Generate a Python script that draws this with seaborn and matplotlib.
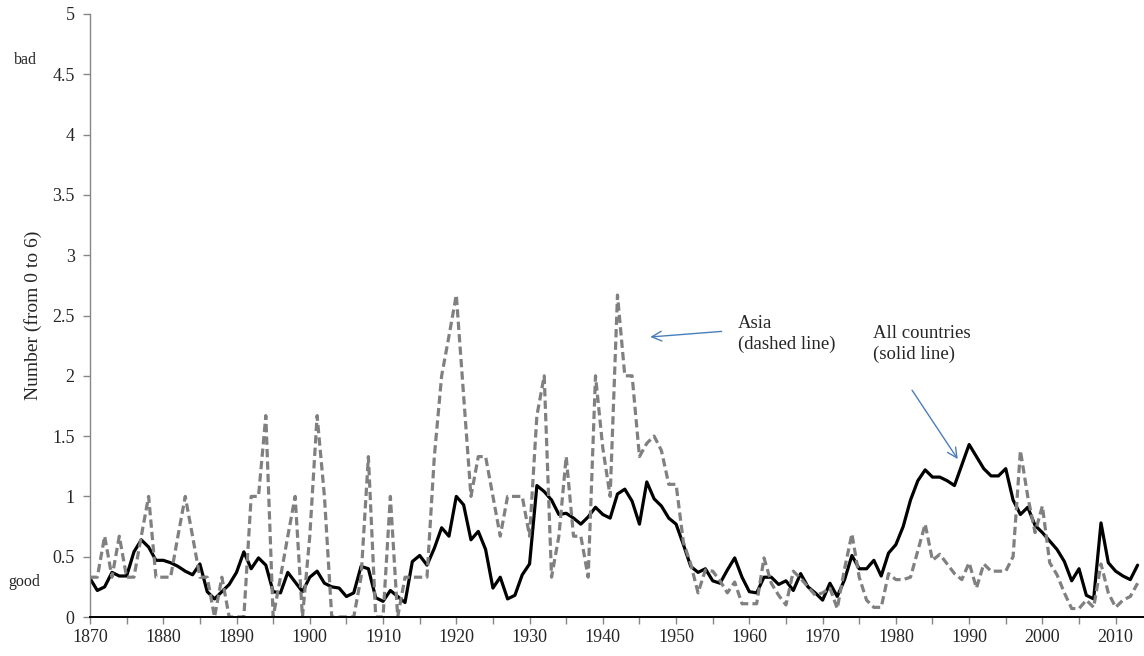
import numpy as np
import pandas as pd
import matplotlib
matplotlib.use("Agg")
import matplotlib.pyplot as plt
import seaborn as sns

years = list(range(1870, 2014))

all_countries = [
    0.32, 0.22, 0.25, 0.37, 0.34, 0.34, 0.54, 0.64, 0.58, 0.47,   # 1870s
    0.47, 0.45, 0.42, 0.38, 0.35, 0.44, 0.21, 0.15, 0.21, 0.27,   # 1880s
    0.37, 0.54, 0.40, 0.49, 0.43, 0.21, 0.20, 0.37, 0.29, 0.21,   # 1890s
    0.33, 0.38, 0.28, 0.25, 0.24, 0.17, 0.20, 0.42, 0.40, 0.16,   # 1900s
    0.13, 0.22, 0.17, 0.12, 0.46, 0.51, 0.43, 0.57, 0.74, 0.67,   # 1910s
    1.00, 0.93, 0.64, 0.71, 0.56, 0.24, 0.33, 0.15, 0.18, 0.35,   # 1920s
    0.44, 1.09, 1.04, 0.97, 0.85, 0.86, 0.82, 0.77, 0.83, 0.91,   # 1930s
    0.85, 0.82, 1.02, 1.06, 0.96, 0.77, 1.12, 0.98, 0.92, 0.82,   # 1940s
    0.77, 0.60, 0.42, 0.37, 0.40, 0.30, 0.28, 0.39, 0.49, 0.33,   # 1950s
    0.21, 0.20, 0.33, 0.33, 0.27, 0.30, 0.22, 0.36, 0.25, 0.20,   # 1960s
    0.14, 0.28, 0.17, 0.31, 0.51, 0.40, 0.40, 0.47, 0.34, 0.53,   # 1970s
    0.60, 0.75, 0.97, 1.13, 1.22, 1.16, 1.16, 1.13, 1.09, 1.26,   # 1980s
    1.43, 1.33, 1.23, 1.17, 1.17, 1.23, 0.97, 0.85, 0.91, 0.76,   # 1990s
    0.70, 0.63, 0.56, 0.46, 0.30, 0.40, 0.18, 0.15, 0.78, 0.45,   # 2000s
    0.38, 0.34, 0.31, 0.43,                                       # 2010s
]

asia = [
    0.33, 0.33, 0.67, 0.33, 0.67, 0.33, 0.33, 0.67, 1.00, 0.33,   # 1870s
    0.33, 0.33, 0.67, 1.00, 0.67, 0.33, 0.33, 0.00, 0.33, 0.00,   # 1880s
    0.00, 0.00, 1.00, 1.00, 1.67, 0.00, 0.33, 0.67, 1.00, 0.00,   # 1890s
    0.67, 1.67, 1.00, 0.00, 0.00, 0.00, 0.00, 0.33, 1.33, 0.00,   # 1900s
    0.00, 1.00, 0.00, 0.33, 0.33, 0.33, 0.33, 1.33, 2.00, 2.33,   # 1910s
    2.67, 1.83, 1.00, 1.33, 1.33, 1.00, 0.67, 1.00, 1.00, 1.00,   # 1920s
    0.67, 1.67, 2.00, 0.33, 0.67, 1.33, 0.67, 0.67, 0.33, 2.00,   # 1930s
    1.40, 1.00, 2.67, 2.00, 2.00, 1.33, 1.44, 1.50, 1.38, 1.10,   # 1940s
    1.10, 0.62, 0.44, 0.20, 0.39, 0.38, 0.30, 0.20, 0.29, 0.11,   # 1950s
    0.11, 0.11, 0.49, 0.28, 0.18, 0.10, 0.38, 0.32, 0.25, 0.18,   # 1960s
    0.20, 0.24, 0.07, 0.40, 0.69, 0.33, 0.14, 0.08, 0.08, 0.36,   # 1970s
    0.31, 0.31, 0.33, 0.55, 0.77, 0.47, 0.52, 0.44, 0.36, 0.31,   # 1980s
    0.45, 0.24, 0.44, 0.38, 0.38, 0.38, 0.50, 1.38, 1.00, 0.70,   # 1990s
    0.92, 0.45, 0.35, 0.20, 0.07, 0.07, 0.14, 0.08, 0.44, 0.20,   # 2000s
    0.08, 0.14, 0.17, 0.28,                                       # 2010s
]

series_names = ["All countries", "Asia"]
x_major = list(range(1870, 2011, 10))
x_minor = list(range(1875, 2014, 5))
y_ticks = [0, 0.5, 1, 1.5, 2, 2.5, 3, 3.5, 4, 4.5, 5]
y_ticklabels = ["0", "0.5", "1", "1.5", "2", "2.5", "3", "3.5", "4", "4.5", "5"]

df = pd.DataFrame({
    "Year": years * 2,
    "Value": all_countries + asia,
    "Series": [series_names[0]] * len(years) + [series_names[1]] * len(years),
})

sns.set_style("white")
plt.rcParams["font.family"] = ["Liberation Serif", "DejaVu Serif"]

fig = plt.figure(figsize=(11.44, 6.56), dpi=100)
ax = fig.add_axes([90 / 1144, 39 / 656, 1054 / 1144, 603 / 656])

sns.lineplot(
    data=df, x="Year", y="Value", hue="Series", style="Series",
    hue_order=series_names, style_order=series_names,
    palette={"All countries": "#000000", "Asia": "#808080"},
    dashes={"All countries": "", "Asia": (2.6, 1.3)},
    linewidth=2.3, legend=False, ax=ax,
)

ax.set_xlim(1870, 1870 + 1054 / 7.326)
ax.set_ylim(0, 5)
ax.set_xticks(x_major)
ax.set_xticklabels([str(y) for y in x_major])
ax.set_xticks(x_minor, minor=True)
ax.set_yticks(y_ticks)
ax.set_yticklabels(y_ticklabels)

for s in ["top", "right"]:
    ax.spines[s].set_visible(False)
ax.spines["left"].set_color("#868686")
ax.spines["left"].set_linewidth(1.0)
ax.spines["bottom"].set_color("#000000")
ax.spines["bottom"].set_linewidth(1.4)

ax.tick_params(axis="x", which="both", direction="out", length=5, width=1,
               color="#868686", labelsize=13, pad=4, bottom=True)
ax.tick_params(axis="y", which="major", direction="out", length=5, width=1,
               color="#868686", labelsize=13, pad=6, left=True)
ax.grid(False)

ax.set_xlabel("")
ax.set_ylabel("Number (from 0 to 6)", fontsize=14, labelpad=7)

# side labels
fig.text(25 / 1144, 1 - 60 / 656, "bad", fontsize=11.5, ha="center", va="center")
fig.text(24 / 1144, 1 - 582 / 656, "good", fontsize=11.5, ha="center", va="center")

arrow_color = "#4A7EBB"
ax.annotate("", xy=(1946.1, 2.32), xytext=(1956.6, 2.37),
            arrowprops=dict(arrowstyle="->,head_length=0.7,head_width=0.35",
                            color=arrow_color, lw=1.0))
ax.text(1958.4, 2.50, "Asia\n(dashed line)", fontsize=13.5, ha="left", va="top",
        linespacing=1.25)

ax.annotate("", xy=(1988.66, 1.29), xytext=(1982.0, 1.90),
            arrowprops=dict(arrowstyle="->,head_length=0.7,head_width=0.35",
                            color=arrow_color, lw=1.0))
ax.text(1976.9, 2.42, "All countries\n(solid line)", fontsize=13.5, ha="left", va="top",
        linespacing=1.25)

fig.savefig("out.png", dpi=100)
